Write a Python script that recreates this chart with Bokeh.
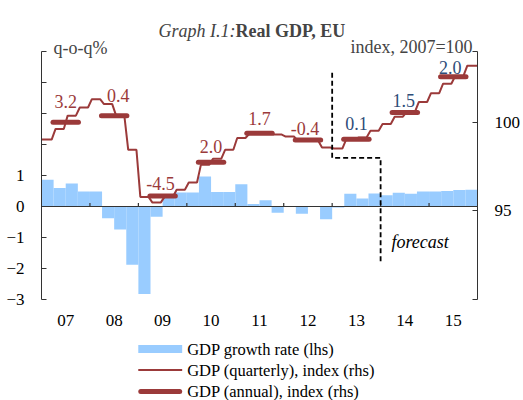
import numpy as np
from bokeh.plotting import figure
from bokeh.models import (Range1d, LinearAxis, FixedTicker, Span, Label, LabelSet,
                          ColumnDataSource)
from bokeh.core.properties import value
from bokeh.embed import file_html
from bokeh.resources import INLINE

# ---------------- data ----------------
years = ["07", "08", "09", "10", "11", "12", "13", "14", "15"]

# GDP growth rate, q-o-q % (lhs), 2007Q1 .. 2015Q4
growth_qoq = [0.86, 0.60, 0.74, 0.48,
              0.48, -0.38, -0.74, -1.88,
              -2.82, -0.33, 0.40, 0.45,
              0.45, 0.97, 0.47, 0.47,
              0.72, 0.08, 0.20, -0.20,
              0.00, -0.23, 0.02, -0.41,
              -0.03, 0.41, 0.26, 0.42,
              0.36, 0.44, 0.41, 0.48,
              0.48, 0.50, 0.53, 0.54]

# GDP quarterly index, 2007=100 (rhs)
index_q = [99.03, 99.63, 100.38, 100.84,
           101.31, 101.03, 100.38, 98.45,
           95.79, 95.47, 95.79, 96.20,
           96.60, 97.60, 97.94, 98.45,
           99.12, 99.35, 99.44, 99.31,
           99.20, 98.97, 98.97, 98.58,
           98.52, 99.04, 99.14, 99.53,
           99.91, 100.32, 100.60, 101.15,
           101.65, 102.18, 102.62, 103.20]

# GDP annual index, 2007=100 (rhs) and annual growth labels
index_a = [100.00, 100.38, 95.84, 97.75, 99.38, 99.00, 99.05, 100.56, 102.57]
growth_a = ["3.2", "0.4", "-4.5", "2.0", "1.7", "-0.4", "0.1", "1.5", "2.0"]
is_forecast = [False, False, False, False, False, False, True, True, True]

legend_labels = ["GDP growth rate (lhs)", "GDP (quarterly), index (rhs)",
                 "GDP (annual), index (rhs)"]

# ---------------- styles / placement ----------------
FONT = "Liberation Serif"
BAR_COLOR = "#99CCFF"
RED = "#9B3A3A"
BLUE = "#2E4C78"
AXIS_COLOR = "#333333"

label_dx = [0, 4, -2, 0, 0, -3, 0, -1, -3]      # px
label_dy = [21, 20, 13, 16, 15, 12, 16, 12, 9]  # px above annual bar

fc_x = [24, 24, 28, 28]
fc_y = [102.8, 98.0, 98.0, 92.0]

# page geometry (pixels); the frame spans the full canvas height
W, H = 523, 400
FRAME_L, FRAME_R = 41, 478
DATA_TOP_PX, DATA_BOTTOM_PX = 51, 299
L_LO, L_HI = -3, 5
R_LO, R_HI = 90, 104

n_q = len(growth_qoq)
PX_PER_Q = (FRAME_R - FRAME_L) / n_q
PX_PER_L = (DATA_BOTTOM_PX - DATA_TOP_PX) / (L_HI - L_LO)
PX_PER_R = (DATA_BOTTOM_PX - DATA_TOP_PX) / (R_HI - R_LO)


def xd(px):
    return (px - FRAME_L) / PX_PER_Q


def yl(py):
    return L_LO + (DATA_BOTTOM_PX - py) / PX_PER_L


q_center = np.arange(n_q) + 0.5
year_center = np.arange(len(years)) * 4 + 2.0

p = figure(width=W, height=H,
           x_range=Range1d(0, n_q),
           y_range=Range1d(yl(H), yl(0)),
           output_backend="svg", toolbar_location=None,
           min_border_left=FRAME_L, min_border_right=W - FRAME_R,
           min_border_top=0, min_border_bottom=0,
           background_fill_color="white", border_fill_color="white")
p.extra_y_ranges = {"idx": Range1d(R_LO - (H - DATA_BOTTOM_PX) / PX_PER_R,
                                   R_HI + DATA_TOP_PX / PX_PER_R)}
p.outline_line_color = None
p.xgrid.visible = False
p.ygrid.visible = False

# x axis: year labels only, drawn at the bottom of the value axes
xa = p.xaxis[0]
xa.fixed_location = L_LO
xa.ticker = FixedTicker(ticks=list(year_center))
xa.major_label_overrides = {float(c): y for c, y in zip(year_center, years)}
xa.axis_line_color = None
xa.major_tick_line_color = None
xa.minor_tick_line_color = None
xa.major_tick_in = 0
xa.major_tick_out = 0
xa.major_label_standoff = 15
xa.major_label_text_font = FONT
xa.major_label_text_font_size = "17px"
xa.major_label_text_color = "black"

# left axis
ya = p.yaxis[0]
ya.bounds = (L_LO, L_HI)
ya.ticker = FixedTicker(ticks=[-3, -2, -1, 0, 1, 2, 3, 4, 5])
ya.major_label_overrides = {2: "", 3: "", 4: "", 5: ""}
ya.axis_line_color = AXIS_COLOR
ya.major_tick_line_color = AXIS_COLOR
ya.minor_tick_line_color = None
ya.major_tick_in = 5
ya.major_tick_out = 0
ya.major_label_standoff = 17
ya.major_label_text_font = FONT
ya.major_label_text_font_size = "17px"
ya.major_label_text_color = "black"

# right axis
ra = LinearAxis(y_range_name="idx", bounds=(R_LO, R_HI),
                ticker=FixedTicker(ticks=[90, 95, 100, 104]))
ra.major_label_overrides = {90: "", 104: ""}
ra.axis_line_color = AXIS_COLOR
ra.major_tick_line_color = AXIS_COLOR
ra.minor_tick_line_color = None
ra.major_tick_in = 5
ra.major_tick_out = 0
ra.major_label_standoff = 17
ra.major_label_text_font = FONT
ra.major_label_text_font_size = "17px"
ra.major_label_text_color = "black"
p.add_layout(ra, "right")

# bars
p.vbar(x=q_center, width=1.0, top=growth_qoq, bottom=0,
       fill_color=BAR_COLOR, line_color=None)

# zero line with year-boundary ticks
p.add_layout(Span(location=0, dimension="width", line_color=AXIS_COLOR, line_width=1.2))
yb = np.arange(1, len(years)) * 4
p.segment(x0=yb, y0=0, x1=yb, y1=0.11, line_color=AXIS_COLOR, line_width=1.2)

# quarterly index as a stair line
xs, ys = [], []
for i, v in enumerate(index_q):
    x0 = 0.0 if i == 0 else i + 0.16
    x1 = float(n_q) if i == n_q - 1 else i + 0.84
    xs += [x0, x1]
    ys += [v, v]
p.line(xs, ys, y_range_name="idx", line_color=RED, line_width=2)

# annual index thick segments
p.segment(x0=year_center - 1.05, y0=index_a, x1=year_center + 1.05, y1=index_a,
          y_range_name="idx", line_color=RED, line_width=5, line_cap="round")

# forecast divider
p.line(fc_x, fc_y, y_range_name="idx", line_color="black", line_width=1.8, line_dash="5 3")
p.add_layout(Label(x=28.9, y=93.25, y_range_name="idx", text="forecast",
                   text_font=FONT, text_font_size="18px", text_font_style="italic",
                   text_baseline="middle", text_align="left", text_color="black"))

# annual growth labels
src = ColumnDataSource(dict(x=year_center, y=index_a, text=growth_a,
                            color=[BLUE if f else RED for f in is_forecast],
                            dx=label_dx, dy=label_dy))
p.add_layout(LabelSet(x="x", y="y", text="text", source=src, y_range_name="idx",
                      x_offset="dx", y_offset="dy", text_color="color",
                      text_font=value(FONT), text_font_size=value("18px"),
                      text_align="center", text_baseline="middle"))

# axis titles
p.add_layout(Label(x=0.99, y=L_HI, y_offset=4, text="q-o-q%", text_font=FONT,
                   text_font_size="18px", text_align="left", text_baseline="alphabetic"))
p.add_layout(Label(x=35.59, y=L_HI, y_offset=5, text="index, 2007=100", text_font=FONT,
                   text_font_size="18px", text_align="right", text_baseline="alphabetic"))

# title
p.add_layout(Label(x=16.02, y=L_HI, y_offset=21, text="Graph I.1:", text_font=FONT,
                   text_font_size="18px", text_font_style="italic",
                   text_align="right", text_baseline="alphabetic"))
p.add_layout(Label(x=16.02, y=L_HI, y_offset=21, text="Real GDP, EU", text_font=FONT,
                   text_font_size="18px", text_font_style="bold",
                   text_align="left", text_baseline="alphabetic"))

# ---------------- legend (below the x labels, inside the tall frame) ----------------
SW_X0, SW_X1, TXT_X = 138, 182, 187
ROW_PX = [348.5, 369.5, 391]

p.rect(x=xd((SW_X0 + SW_X1) / 2), y=yl(ROW_PX[0]), width=(SW_X1 - SW_X0) / PX_PER_Q,
       height=8 / PX_PER_L, fill_color=BAR_COLOR, line_color=None)
p.segment(x0=xd(SW_X0), y0=yl(ROW_PX[1]), x1=xd(SW_X1), y1=yl(ROW_PX[1]),
          line_color=RED, line_width=2)
p.segment(x0=xd(SW_X0 + 2.5), y0=yl(ROW_PX[2]), x1=xd(SW_X1 - 2.5), y1=yl(ROW_PX[2]),
          line_color=RED, line_width=5, line_cap="round")
for txt, py in zip(legend_labels, ROW_PX):
    p.add_layout(Label(x=xd(TXT_X), y=yl(py), text=txt, text_font=FONT,
                       text_font_size="16.5px", text_color="black",
                       text_align="left", text_baseline="middle"))

open("out.html", "w").write(file_html(p, INLINE))
